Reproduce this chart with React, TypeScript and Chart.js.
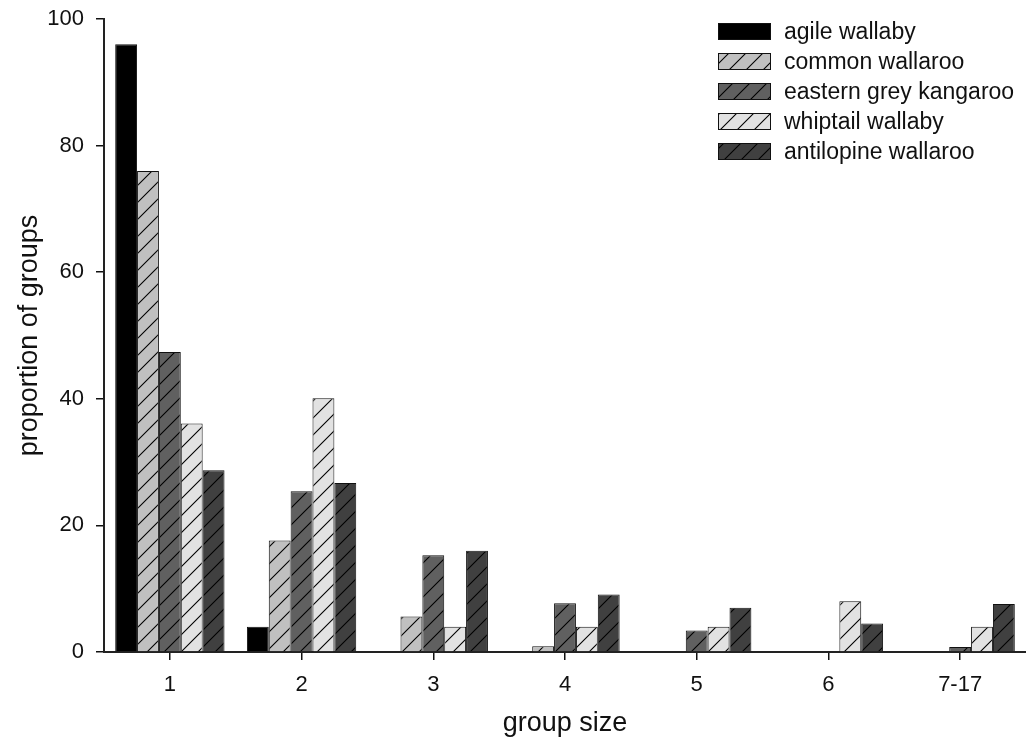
import { useEffect, useRef } from 'react';
import { Chart, registerables } from 'chart.js';

Chart.register(...registerables);

// Group-size classes on the x axis
const groupSizes = ['1', '2', '3', '4', '5', '6', '7-17'];

// Proportion of groups (%) per species and group size
const agileWallaby = [96, 4, 0, 0, 0, 0, 0];
const commonWallaroo = [76, 17.6, 5.6, 0.9, 0, 0, 0];
const easternGreyKangaroo = [47.4, 25.4, 15.3, 7.7, 3.4, 0, 0.8];
const whiptailWallaby = [36.1, 40.1, 4, 4, 4, 8, 4];
const antilopineWallaroo = [28.7, 26.7, 16, 9.1, 7, 4.5, 7.6];

const speciesNames = [
  'agile wallaby',
  'common wallaroo',
  'eastern grey kangaroo',
  'whiptail wallaby',
  'antilopine wallaroo',
];

const yTicks = [0, 20, 40, 60, 80, 100];

const FONT = '"Liberation Sans", Arial, Helvetica, sans-serif';
const INK = '#111';

// Solid fill, or a base colour crossed by thin "/" hatch lines
function makeFill(base: string, hatched: boolean): string | CanvasPattern {
  if (!hatched) return base;
  const size = 17;
  const c = document.createElement('canvas');
  c.width = size;
  c.height = size;
  const g = c.getContext('2d')!;
  g.fillStyle = base;
  g.fillRect(0, 0, size, size);
  g.strokeStyle = '#000';
  g.lineWidth = 1.1;
  g.beginPath();
  g.moveTo(-2, size + 2);
  g.lineTo(size + 2, -2);
  g.moveTo(-2, 2);
  g.lineTo(2, -2);
  g.moveTo(size - 2, size + 2);
  g.lineTo(size + 2, size - 2);
  g.stroke();
  return g.createPattern(c, 'repeat')!;
}

const titlesAndLegend = {
  id: 'titlesAndLegend',
  afterDraw(chart: Chart) {
    const ctx = chart.ctx;
    ctx.save();
    ctx.fillStyle = INK;

    // axis titles
    ctx.font = `27px ${FONT}`;
    ctx.textAlign = 'center';
    ctx.textBaseline = 'alphabetic';
    const area = chart.chartArea;
    ctx.fillText('group size', (area.left + area.right) / 2, 731);
    ctx.save();
    ctx.translate(37, (area.top + area.bottom) / 2);
    ctx.rotate(-Math.PI / 2);
    ctx.fillText('proportion of groups', 0, 0);
    ctx.restore();

    // legend
    const boxX = 718;
    const boxW = 53;
    const boxH = 17;
    const firstY = 31.7;
    const rowGap = 30;
    ctx.font = `23px ${FONT}`;
    ctx.textAlign = 'left';
    ctx.textBaseline = 'middle';
    chart.data.datasets.forEach((ds, i) => {
      const cy = firstY + i * rowGap;
      const top = Math.round(cy - boxH / 2);
      ctx.fillStyle = ds.backgroundColor as any;
      ctx.fillRect(boxX, top, boxW, boxH);
      ctx.strokeStyle = INK;
      ctx.lineWidth = 1;
      ctx.strokeRect(boxX + 0.5, top + 0.5, boxW - 1, boxH - 1);
      ctx.fillStyle = INK;
      ctx.fillText(String(ds.label), 784, cy + 1);
    });
    ctx.restore();
  },
};

export default function App() {
  const canvasRef = useRef<HTMLCanvasElement | null>(null);

  useEffect(() => {
    document.body.style.margin = '0';
    const canvas = canvasRef.current;
    if (!canvas) return;

    const seriesValues = [
      agileWallaby,
      commonWallaroo,
      easternGreyKangaroo,
      whiptailWallaby,
      antilopineWallaroo,
    ];
    const styles = [
      { base: '#000000', hatched: false },
      { base: '#c0c0c0', hatched: true },
      { base: '#606060', hatched: true },
      { base: '#e2e2e2', hatched: true },
      { base: '#404040', hatched: true },
    ];

    const chart = new Chart(canvas, {
      type: 'bar',
      data: {
        labels: groupSizes,
        datasets: seriesValues.map((values, i) => ({
          label: speciesNames[i],
          data: values,
          backgroundColor: makeFill(styles[i].base, styles[i].hatched),
          borderColor: INK,
          borderWidth: 1,
          categoryPercentage: 0.83,
          barPercentage: 1,
        })),
      },
      options: {
        responsive: false,
        devicePixelRatio: 1,
        animation: false,
        layout: { padding: { top: 19, right: 0, bottom: 0, left: 0 } },
        plugins: {
          legend: { display: false },
          tooltip: { enabled: false },
          title: { display: false },
        },
        scales: {
          x: {
            type: 'category',
            grid: {
              display: true,
              drawOnChartArea: false,
              drawTicks: true,
              tickLength: 8,
              offset: false,
              color: INK,
              lineWidth: 1.5,
            },
            border: { display: true, color: '#222', width: 2 },
            ticks: {
              color: INK,
              font: { family: FONT, size: 22 },
              padding: 12,
              maxRotation: 0,
              autoSkip: false,
            },
            afterFit(scale: any) {
              scale.height = 90;
              scale.paddingLeft = 0;
              scale.paddingRight = 0;
            },
          },
          y: {
            min: 0,
            max: 100,
            grid: {
              display: true,
              drawOnChartArea: false,
              drawTicks: true,
              tickLength: 8,
              color: INK,
              lineWidth: 1.5,
            },
            border: { display: true, color: '#222', width: 2 },
            ticks: {
              color: INK,
              font: { family: FONT, size: 22 },
              padding: 12,
            },
            afterBuildTicks(scale: any) {
              scale.ticks = yTicks.map((v) => ({ value: v }));
            },
            afterFit(scale: any) {
              scale.width = 104;
              scale.paddingTop = 0;
              scale.paddingBottom = 0;
            },
          },
        },
      },
      plugins: [titlesAndLegend],
    });

    return () => chart.destroy();
  }, []);

  return (
    <div style={{ position: 'fixed', left: 0, top: 0, width: 1026, height: 742, background: '#fff' }}>
      <canvas ref={canvasRef} width={1026} height={742} style={{ display: 'block' }} />
    </div>
  );
}
